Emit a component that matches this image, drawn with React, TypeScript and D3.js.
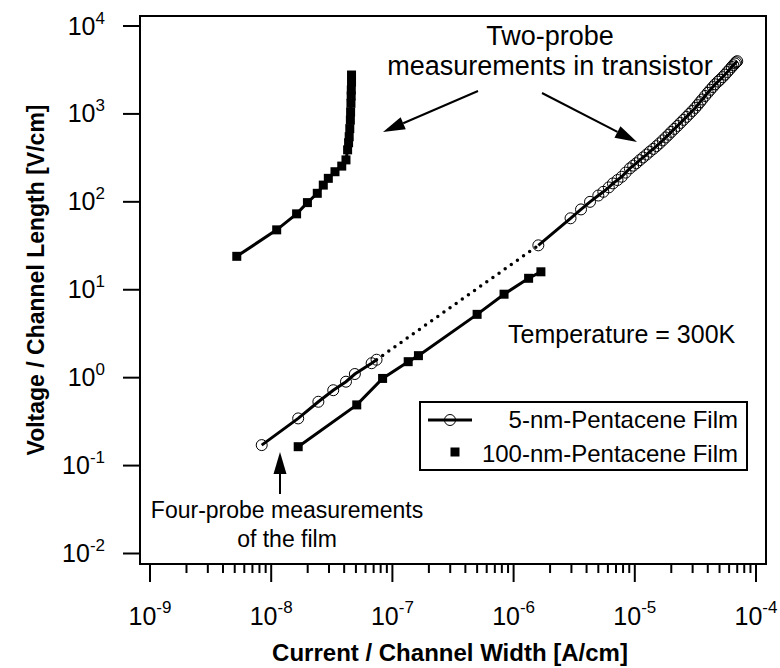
import React from 'react';
import * as d3 from 'd3';

// current density [A/cm], field [V/cm]
const fiveNmFourProbe: [number, number][] = [
  [8.35e-9, 0.171], [1.67e-8, 0.344], [2.45e-8, 0.532], [3.25e-8, 0.72],
  [4.14e-8, 0.9], [4.9e-8, 1.1], [6.74e-8, 1.46], [7.4e-8, 1.6],
];

const fiveNmTwoProbe: [number, number][] = [
  [1.6e-6, 32], [2.95e-6, 65], [3.6e-6, 82], [4.27e-6, 100], [5.0e-6, 118],
  [5.5e-6, 130], [6.1e-6, 146], [6.6e-6, 162], [7.2e-6, 177], [7.8e-6, 193],
  [8.4e-6, 215], [9.1e-6, 240], [9.7e-6, 258], [1.03e-5, 275], [1.1e-5, 298],
  [1.17e-5, 320], [1.25e-5, 345], [1.33e-5, 372], [1.42e-5, 400], [1.51e-5, 430],
  [1.6e-5, 462], [1.7e-5, 500], [1.8e-5, 540], [1.9e-5, 580], [2.0e-5, 625],
  [2.12e-5, 675], [2.25e-5, 730], [2.38e-5, 790], [2.52e-5, 855], [2.67e-5, 925],
  [2.82e-5, 1000], [2.98e-5, 1080], [3.15e-5, 1170], [3.3e-5, 1260], [3.45e-5, 1360],
  [3.6e-5, 1460], [3.8e-5, 1600], [4.0e-5, 1740], [4.2e-5, 1880], [4.4e-5, 2020],
  [4.6e-5, 2170], [4.85e-5, 2330], [5.05e-5, 2450], [5.3e-5, 2620], [5.55e-5, 2800],
  [5.8e-5, 3000], [6.05e-5, 3200], [6.3e-5, 3420], [6.5e-5, 3580], [6.7e-5, 3750],
  [6.85e-5, 3870], [7.0e-5, 3980],
];

const hundredNmFourProbe: [number, number][] = [
  [1.67e-8, 0.164], [5.08e-8, 0.49], [8.3e-8, 0.98], [1.35e-7, 1.52],
  [1.64e-7, 1.78], [5.0e-7, 5.25], [8.34e-7, 8.9], [1.33e-6, 13.5], [1.68e-6, 16],
];

const hundredNmTwoProbe: [number, number][] = [
  [5.2e-9, 24], [1.11e-8, 48], [1.62e-8, 73], [1.99e-8, 98], [2.4e-8, 125],
  [2.69e-8, 155], [2.96e-8, 185], [3.36e-8, 220], [3.82e-8, 255], [4.14e-8, 300],
  [4.27e-8, 390], [4.35e-8, 470], [4.4e-8, 550], [4.45e-8, 680], [4.5e-8, 850],
  [4.52e-8, 1050], [4.55e-8, 1320], [4.57e-8, 1600], [4.58e-8, 1870], [4.6e-8, 2300],
  [4.6e-8, 2770],
];

const xTickExps = [-9, -8, -7, -6, -5, -4];
const yTickExps = [-2, -1, 0, 1, 2, 3, 4];
const legendLabels = ['5-nm-Pentacene Film', '100-nm-Pentacene Film'];

const font = '"Liberation Sans", Arial, Helvetica, sans-serif';

const Arrow = ({ x1, y1, x2, y2 }: { x1: number; y1: number; x2: number; y2: number }) => {
  const a = Math.atan2(y2 - y1, x2 - x1);
  const len = 22, half = 6.5;
  const bx = x2 - len * Math.cos(a), by = y2 - len * Math.sin(a);
  const px = -Math.sin(a) * half, py = Math.cos(a) * half;
  return (
    <g>
      <line x1={x1} y1={y1} x2={bx} y2={by} stroke="#000" strokeWidth={2} />
      <polygon points={`${x2},${y2} ${bx + px},${by + py} ${bx - px},${by - py}`} fill="#000" />
    </g>
  );
};

export default function App() {
  const left = 140, right = 766, top = 16, bottom = 564;
  const x = d3.scaleLog().domain([1e-9, 1e-4]).range([150, 756]);
  const y = d3.scaleLog().domain([1e-2, 1e4]).range([553.5, 26]);
  const line = d3.line<[number, number]>().x(d => x(d[0])).y(d => y(d[1]));

  const xTicks = x.ticks();
  const connector: [number, number][] = [
    fiveNmFourProbe[fiveNmFourProbe.length - 1],
    fiveNmTwoProbe[0],
  ];
  const sq = 9;

  return (
    <svg width={780} height={668} style={{ position: 'absolute', left: 0, top: 0, background: '#fff' }}
      fontFamily={font}>
      {/* frame */}
      <rect x={left} y={top} width={right - left} height={bottom - top} fill="none" stroke="#000" strokeWidth={2} />

      {/* y axis */}
      {yTickExps.map(e => (
        <g key={e}>
          <line x1={123} x2={left} y1={y(10 ** e)} y2={y(10 ** e)} stroke="#000" strokeWidth={2} />
          <text x={105} y={y(10 ** e) + 8.5} fontSize={25} textAnchor="end">
            10<tspan fontSize={17} dy={-11}>{e}</tspan>
          </text>
        </g>
      ))}

      {/* x axis */}
      {xTicks.map((v, i) => {
        const major = Math.abs(Math.log10(v) - Math.round(Math.log10(v))) < 1e-6;
        return (
          <line key={i} x1={x(v)} x2={x(v)} y1={bottom} y2={bottom + (major ? 18 : 9)}
            stroke="#000" strokeWidth={2} />
        );
      })}
      {xTickExps.map(e => (
        <text key={e} x={x(10 ** e)} y={625} fontSize={25} textAnchor="middle">
          10<tspan fontSize={17} dy={-12}>{e}</tspan>
        </text>
      ))}

      {/* axis titles */}
      <text x={450} y={661} fontSize={24} fontWeight="bold" textAnchor="middle">
        Current / Channel Width [A/cm]
      </text>
      <text transform={`translate(44, 280) rotate(-90)`} fontSize={23}
        fontWeight="bold" textAnchor="middle">
        Voltage / Channel Length [V/cm]
      </text>

      {/* 100-nm film */}
      <path d={line(hundredNmTwoProbe) ?? ''} fill="none" stroke="#000" strokeWidth={3} />
      <path d={line(hundredNmFourProbe) ?? ''} fill="none" stroke="#000" strokeWidth={3} />
      {[...hundredNmTwoProbe, ...hundredNmFourProbe].map((d, i) => (
        <rect key={i} x={x(d[0]) - sq / 2} y={y(d[1]) - sq / 2} width={sq} height={sq} fill="#000" />
      ))}

      {/* 5-nm film */}
      <path d={line(connector) ?? ''} fill="none" stroke="#000" strokeWidth={3.5}
        strokeDasharray="0 7.5" strokeLinecap="round" />
      <path d={line(fiveNmFourProbe) ?? ''} fill="none" stroke="#000" strokeWidth={3} />
      <path d={line(fiveNmTwoProbe) ?? ''} fill="none" stroke="#000" strokeWidth={3} />
      {[...fiveNmFourProbe, ...fiveNmTwoProbe].map((d, i) => (
        <circle key={i} cx={x(d[0])} cy={y(d[1])} r={5.5} fill="none" stroke="#000" strokeWidth={1} />
      ))}

      {/* annotations */}
      <text x={550} y={45} fontSize={27} textAnchor="middle">Two-probe</text>
      <text x={550} y={75} fontSize={27} textAnchor="middle">measurements in transistor</text>
      <Arrow x1={478} y1={91} x2={383} y2={132} />
      <Arrow x1={542} y1={93} x2={637} y2={142} />
      <text x={508} y={343} fontSize={25}>Temperature = 300K</text>
      <Arrow x1={280} y1={494} x2={280} y2={452} />
      <text x={287} y={518} fontSize={23} textAnchor="middle">Four-probe measurements</text>
      <text x={287} y={547} fontSize={23} textAnchor="middle">of the film</text>

      {/* legend */}
      <rect x={420} y={402} width={327} height={68} fill="#fff" stroke="#000" strokeWidth={2} />
      <line x1={428} x2={472} y1={420} y2={420} stroke="#000" strokeWidth={3} />
      <circle cx={450} cy={420} r={5.5} fill="none" stroke="#000" strokeWidth={1} />
      <rect x={455 - sq / 2} y={452 - sq / 2} width={sq} height={sq} fill="#000" />
      <text x={738} y={428} fontSize={24} textAnchor="end">{legendLabels[0]}</text>
      <text x={738} y={462} fontSize={24} textAnchor="end">{legendLabels[1]}</text>
    </svg>
  );
}
